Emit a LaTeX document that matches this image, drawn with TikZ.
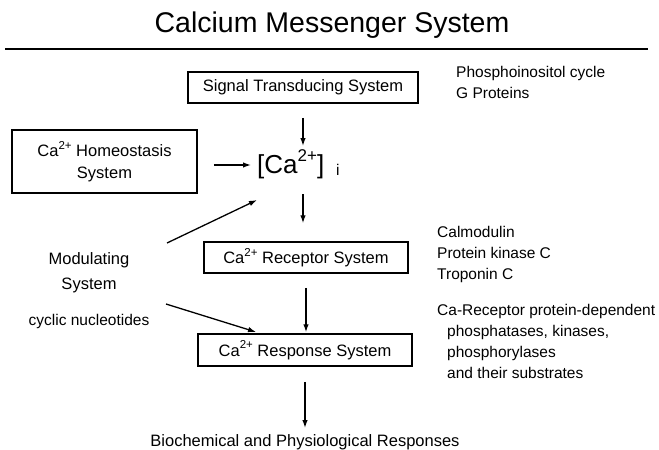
\documentclass[tikz,border=0pt]{standalone}
\usepackage{fontspec}
\setmainfont{Liberation Sans}
\usetikzlibrary{arrows.meta}
\newcommand{\sups}[1]{\raisebox{0.45em}{\fontsize{11.5}{11.5}\selectfont #1}}
\begin{document}
\begin{tikzpicture}[x=1pt,y=-1pt,
  box/.style={draw,line width=1.5pt,inner sep=0pt,font=\fontsize{16.5}{22}\selectfont,align=center},
  lbl/.style={inner sep=0pt,font=\fontsize{15.5}{20}\selectfont,anchor=base west},
  txt/.style={inner sep=0pt,font=\fontsize{16.5}{25}\selectfont,align=center},
  arr/.style={line width=1.3pt,-{Latex[length=8pt,width=5.5pt]}}]
\useasboundingbox (0,0) rectangle (659,450);
% title and rule
\node[inner sep=0pt,anchor=base,font=\fontsize{28.5}{32}\selectfont] (title) at (332,32) {Calcium Messenger System};
\coordinate (ruleL) at (5,49);
\coordinate (ruleR) at (648,49);
\draw[line width=1.8pt] (ruleL) -- (ruleR);
% boxes
\node[box,minimum width=230pt,minimum height=31pt] (sig) at (303,87.5) {Signal Transducing System};
\node[box,minimum width=185pt,minimum height=63pt] (homeo) at (104.5,161.5) {Ca\sups{2+} Homeostasis\\System};
\node[box,minimum width=204pt,minimum height=31pt] (rec) at (306,257.5) {Ca\sups{2+} Receptor System};
\node[box,minimum width=214pt,minimum height=32pt] (resp) at (305,350) {Ca\sups{2+} Response System};
% central calcium
\node[inner sep=0pt,anchor=base west,font=\fontsize{26}{26}\selectfont] (ca) at (257,173) {[Ca\raisebox{0.45em}{\fontsize{17}{17}\selectfont 2+}]};
\node[inner sep=0pt,anchor=base west,font=\fontsize{15.5}{15.5}\selectfont] (casub) at (336,175) {i};
% left texts
\node[txt] (mod) at (89,273) {Modulating\\System};
\node[inner sep=0pt,anchor=base,font=\fontsize{15.5}{20}\selectfont] (cyc) at (89,325) {cyclic nucleotides};
% bottom text
\node[inner sep=0pt,anchor=base,font=\fontsize{16.5}{20}\selectfont] (bio) at (305,446) {Biochemical and Physiological Responses};
% right labels
\node[lbl] (p1) at (456,77) {Phosphoinositol cycle};
\node[lbl] (p2) at (456,98) {G Proteins};
\node[lbl] (c1) at (437,237) {Calmodulin};
\node[lbl] (c2) at (437,258) {Protein kinase C};
\node[lbl] (c3) at (437,279) {Troponin C};
\node[lbl] (r1) at (437,315) {Ca-Receptor protein-dependent};
\node[lbl] (r2) at (447,336) {phosphatases, kinases,};
\node[lbl] (r3) at (447,357) {phosphorylases};
\node[lbl] (r4) at (447,378) {and their substrates};
% arrows
\draw[arr,shorten <=14pt] (sig.south) -- (sig.south |- 0,146);
\draw[arr,shorten <=16pt] (homeo.east |- 0,165) -- (251,165);
\draw[arr,shorten <=21pt,shorten >=18pt] (sig.south |- ca.base) -- (sig.south |- rec.north);
\draw[arr,shorten <=14pt,shorten >=1pt] (rec.south) -- (rec.south |- resp.north);
\draw[arr,shorten <=15pt] (resp.south) -- (resp.south |- 0,428);
\coordinate (m1) at (167,243);
\coordinate (m1e) at (257,200);
\coordinate (m2) at (166,304);
\coordinate (m2e) at (256,332);
\draw[arr] (m1) -- (m1e);
\draw[arr] (m2) -- (m2e);
\end{tikzpicture}
\end{document}
